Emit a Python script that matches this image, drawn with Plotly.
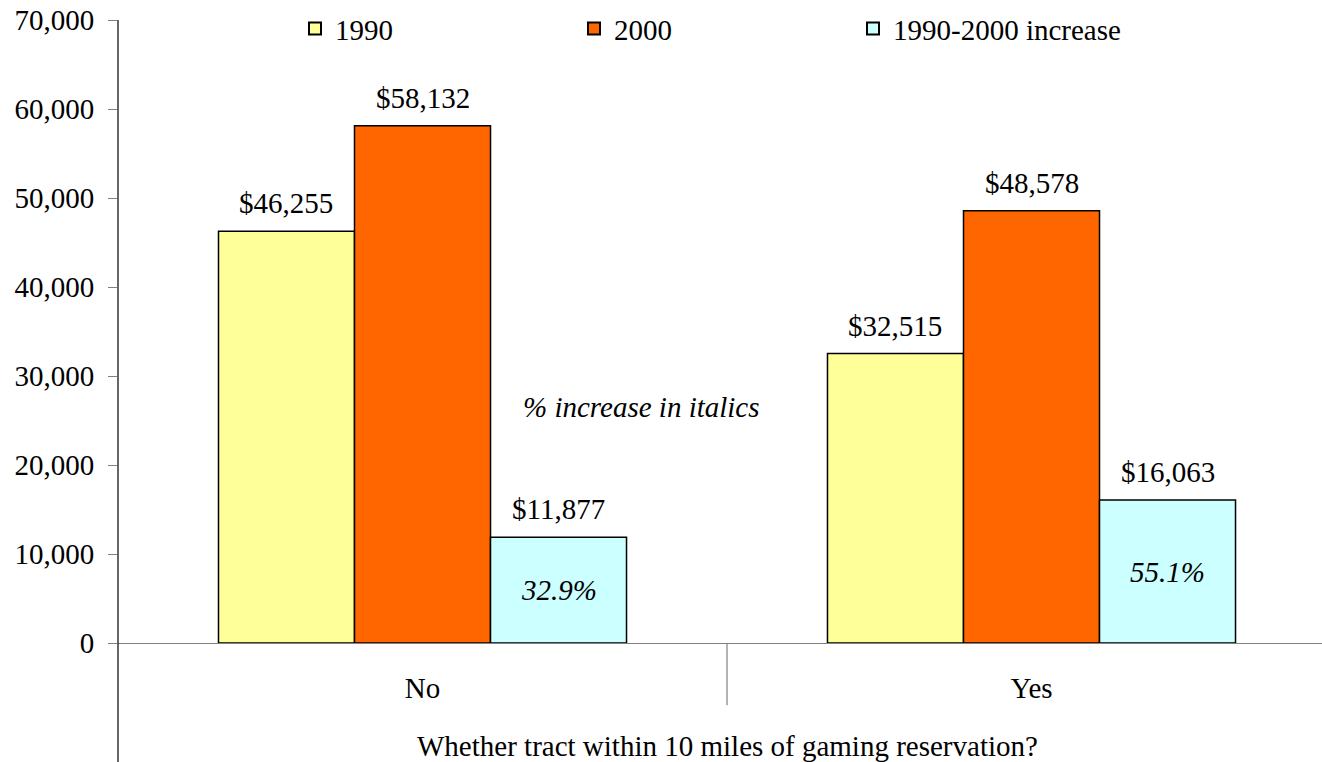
import plotly.graph_objects as go

categories = ["No", "Yes"]
series_names = ["1990", "2000", "1990-2000 increase"]
income_1990 = [46255, 32515]
income_2000 = [58132, 48578]
income_increase = [11877, 16063]
pct_increase = ["32.9%", "55.1%"]
y_ticks = [0, 10000, 20000, 30000, 40000, 50000, 60000, 70000]

colors = ["#FFFF99", "#FF6600", "#CCFFFF"]
FONT = "'Liberation Serif', 'Times New Roman', serif"
FS = 29

series = [income_1990, income_2000, income_increase]
x_idx = list(range(len(categories)))
bargap = 0.33
bar_w = (1 - bargap) / 3

fig = go.Figure()
for name, vals, col in zip(series_names, series, colors):
    fig.add_trace(go.Bar(
        x=x_idx, y=vals, name=name,
        marker=dict(color=col, line=dict(color="black", width=1.5)),
        hoverinfo="skip",
    ))

annotations = []
# dollar labels above each bar
for k, vals in enumerate(series):
    off = (k - 1) * bar_w
    for i, v in enumerate(vals):
        annotations.append(dict(
            x=i + off, y=v, xref="x", yref="y", text=f"${v:,}",
            showarrow=False, yanchor="bottom", yshift=10,
            font=dict(family=FONT, size=FS, color="black"),
        ))
# italic percent labels inside the increase bars
for i, v in enumerate(income_increase):
    annotations.append(dict(
        x=i + bar_w, y=v / 2, xref="x", yref="y", text=f"<i>{pct_increase[i]}</i>",
        showarrow=False, yanchor="middle",
        font=dict(family=FONT, size=FS, color="black"),
    ))
annotations.append(dict(
    x=0.36, y=26500, xref="x", yref="y", text="<i>% increase in italics</i>",
    showarrow=False, font=dict(family=FONT, size=FS, color="black"),
))
annotations.append(dict(
    x=0.5, y=-0.165, xref="x", yref="paper", text="Whether tract within 10 miles of gaming reservation?",
    showarrow=False, yanchor="middle", font=dict(family=FONT, size=FS, color="black"),
))

shapes = [
    # vertical value axis, running below the category labels
    dict(type="line", xref="paper", yref="paper", x0=0, x1=0, y0=-0.2, y1=1,
         line=dict(color="black", width=1.2)),
    # divider between the two categories
    dict(type="line", xref="x", yref="paper", x0=0.5, x1=0.5, y0=0, y1=-0.1,
         line=dict(color="#808080", width=1.2)),
]

fig.update_layout(
    width=1322, height=762,
    margin=dict(l=118, r=0, t=20, b=119),
    paper_bgcolor="white", plot_bgcolor="white",
    barmode="group", bargap=bargap, bargroupgap=0,
    font=dict(family=FONT, size=FS, color="black"),
    showlegend=True,
    legend=dict(orientation="h", x=0.147, y=0.986, xanchor="left", yanchor="middle",
                entrywidth=234, entrywidthmode="pixels", itemsizing="constant",
                font=dict(family=FONT, size=FS, color="black"), bgcolor="rgba(0,0,0,0)",
                traceorder="normal"),
    annotations=annotations,
    shapes=shapes,
    xaxis=dict(range=[-0.5, 1.477], tickvals=x_idx, ticktext=categories, ticks="",
               showline=True, linecolor="#808080", linewidth=1.2, showgrid=False,
               zeroline=False, ticklabelstandoff=19, fixedrange=True),
    yaxis=dict(range=[0, 70000], tickvals=y_ticks, tickformat=",", ticks="outside",
               ticklen=9, tickcolor="#808080", tickwidth=1.2, showline=False,
               showgrid=False, zeroline=False, ticklabelstandoff=8, fixedrange=True),
)

fig.write_html("out.html")
